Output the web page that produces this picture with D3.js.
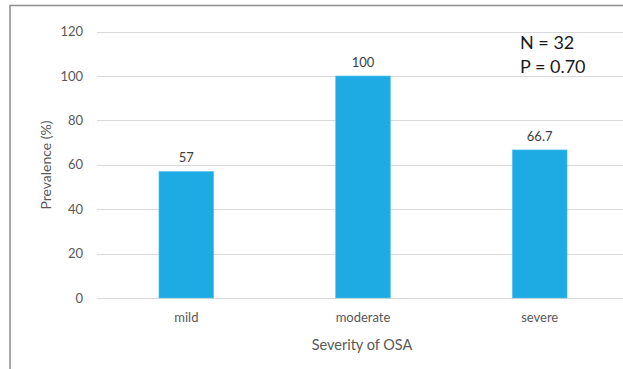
<!DOCTYPE html>
<html>
<head>
<meta charset="utf-8">
<script src="https://cdn.jsdelivr.net/npm/d3@7"></script>
<style>
  html, body { margin: 0; padding: 0; background: #fff; }
  svg { display: block; font-family: Lato, "Open Sans", sans-serif; }
</style>
</head>
<body>
<svg id="chart" width="623" height="369"></svg>
<script>
// Prevalence by OSA severity
const categories = ["mild", "moderate", "severe"];
const prevalence = [57, 100, 66.7];
const valueLabels = ["57", "100", "66.7"];
const yTicks = [0, 20, 40, 60, 80, 100, 120];
const notes = ["N = 32", "P = 0.70"];

const svg = d3.select("#chart");
const W = 623, H = 369;

// plot area
const x = d3.scaleBand()
  .domain(categories)
  .range([98, 628])
  .paddingInner(0.69)
  .paddingOuter(0.345);

const y = d3.scaleLinear()
  .domain([0, 120])
  .range([298, 31.6]);

// outer frame (top and left edges fall inside the view)
svg.append("rect")
  .attr("x", 10).attr("y", 5.5)
  .attr("width", 700).attr("height", 500)
  .attr("fill", "none")
  .attr("stroke", "#8c8c8c")
  .attr("stroke-width", 1.5);

// gridlines
svg.append("g")
  .selectAll("line")
  .data(yTicks)
  .join("line")
  .attr("x1", 97).attr("x2", W)
  .attr("y1", d => Math.round(y(d)) + 0.5)
  .attr("y2", d => Math.round(y(d)) + 0.5)
  .attr("stroke", "#d9d9d9")
  .attr("stroke-width", 1);

// y axis labels
const yAxis = d3.axisLeft(y).tickValues(yTicks).tickSize(0).tickPadding(0);
const gy = svg.append("g").attr("transform", "translate(83,0)").call(yAxis);
gy.select(".domain").remove();
gy.selectAll("text")
  .attr("fill", "#595959")
  .style("font-size", "13px")
  .style("font-family", "Lato, 'Open Sans', sans-serif");

// x axis labels
const xAxis = d3.axisBottom(x).tickSize(0).tickPadding(0);
const gx = svg.append("g").attr("transform", "translate(0,313)").call(xAxis);
gx.select(".domain").remove();
gx.selectAll("text")
  .attr("fill", "#595959")
  .style("font-size", "13px")
  .style("font-family", "Lato, 'Open Sans', sans-serif");

// bars
svg.append("g")
  .selectAll("rect")
  .data(categories)
  .join("rect")
  .attr("x", d => x(d))
  .attr("width", x.bandwidth())
  .attr("y", (d, i) => y(prevalence[i]))
  .attr("height", (d, i) => y(0) - y(prevalence[i]))
  .attr("fill", "#1eaae2")
  .attr("stroke", "#5cc6ef")
  .attr("stroke-width", 0.6);

// value labels
svg.append("g")
  .selectAll("text")
  .data(categories)
  .join("text")
  .attr("x", d => x(d) + x.bandwidth() / 2)
  .attr("y", (d, i) => y(prevalence[i]) - 9)
  .attr("text-anchor", "middle")
  .attr("fill", "#404040")
  .style("font-size", "13px")
  .text((d, i) => valueLabels[i]);

// axis titles
svg.append("text")
  .attr("transform", "translate(51,165) rotate(-90)")
  .attr("text-anchor", "middle")
  .attr("fill", "#595959")
  .style("font-size", "14px")
  .text("Prevalence (%)");

svg.append("text")
  .attr("x", 362).attr("y", 350)
  .attr("text-anchor", "middle")
  .attr("fill", "#595959")
  .style("font-size", "14.5px")
  .text("Severity of OSA");

// annotation
svg.append("g")
  .selectAll("text")
  .data(notes)
  .join("text")
  .attr("x", 520)
  .attr("y", (d, i) => 49 + i * 24)
  .attr("fill", "#1a1a1a")
  .style("font-size", "18px")
  .text(d => d);
</script>
</body>
</html>
